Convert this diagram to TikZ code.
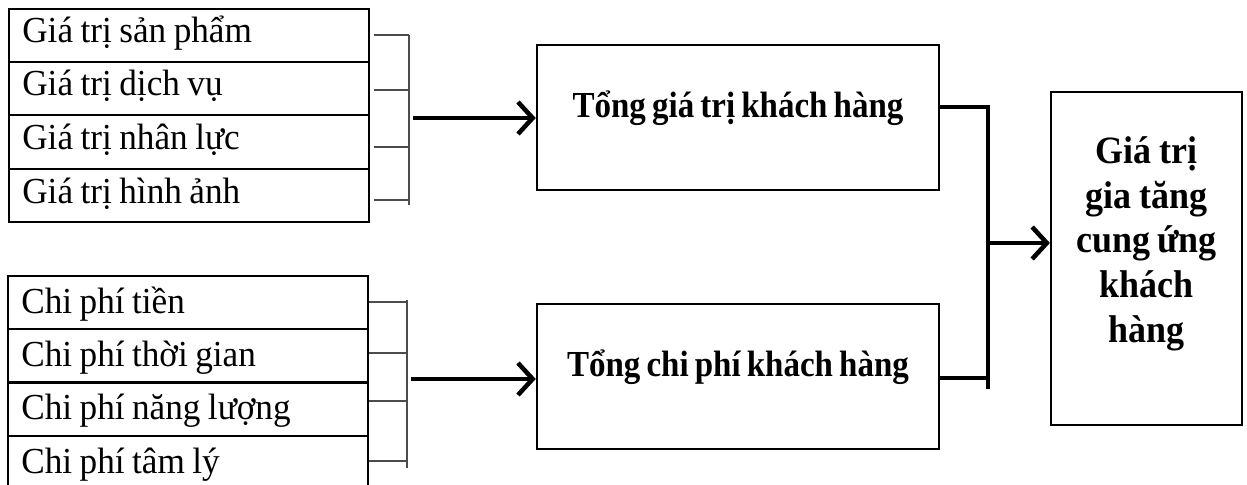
\documentclass[tikz,border=0pt]{standalone}
\usepackage{fontspec}
\setmainfont{Liberation Serif}
\newfontfamily\itemfont[FakeStretch=0.96]{Liberation Serif}
\newfontfamily\sumfont[FakeStretch=0.9]{Liberation Serif}
\newfontfamily\resfont[FakeStretch=0.93]{Liberation Serif}
\newcommand\myitemstyle{\itemfont\fontsize{27.5}{30}\selectfont}
\newcommand\mysumstyle{\sumfont\bfseries\fontsize{27.5}{30}\selectfont\spaceskip=4.6pt plus 1pt minus 1pt\relax}
\newcommand\myresstyle{\resfont\bfseries\fontsize{29}{33.4}\selectfont\spaceskip=5.5pt plus 1pt minus 1pt\relax}
\newcommand\myitemspace{\spaceskip=5.6pt plus 1pt minus 1pt\relax}
\usetikzlibrary{arrows.meta}
\begin{document}
\begin{tikzpicture}[x=0.75pt,y=-0.75pt,
  item/.style={draw=black, line width=1.5pt, minimum width=270pt, minimum height=39.75pt,
    anchor=north west, inner xsep=10pt, text width=250pt, align=left,
    font=\myitemstyle, execute at begin node=\myitemspace,
    text height=21pt, text depth=9.75pt},
  itemlow/.style={item, minimum width=264pt, text height=22.5pt, text depth=6.75pt},
  bigbox/.style={draw=black, line width=1.9pt, minimum width=301.5pt, minimum height=108.75pt,
    font=\mysumstyle, text height=18pt, text depth=18pt},
  resbox/.style={draw=black, line width=1.9pt, minimum width=143pt, minimum height=249.75pt,
    align=center, font=\myresstyle, text height=132.75pt, text depth=7.5pt},
  brk/.style={draw=black!70, line width=0.9pt},
  thick arrow/.style={draw=black, line width=3.6pt, -{Straight Barb[length=11pt, width=24pt, line width=3.4pt]}},
  thick line/.style={draw=black, line width=3.6pt}]
\useasboundingbox (0,0) rectangle (1247,485);
% upper stack
\node[item] (v1) at (8,8) {Giá trị sản phẩm};
\node[item] (v2) at (8,61) {Giá trị dịch vụ};
\node[item] (v3) at (8,114.5) {Giá trị nhân lực};
\node[item] (v4) at (8,168) {Giá trị hình ảnh};
% lower stack
\node[itemlow] (c1) at (7,275) {Chi phí tiền};
\node[itemlow] (c2) at (7,328) {Chi phí thời gian};
\node[itemlow] (c3) at (7,381.5) {Chi phí năng lượng};
\node[itemlow] (c4) at (7,435) {Chi phí tâm lý};
% big boxes
\node[bigbox] (tv) at (738,117.5) {Tổng giá trị khách hàng};
\node[bigbox] (tc) at (738,376.5) {Tổng chi phí khách hàng};
\node[resbox] (res) at (1146.5,258.5) {Giá trị\\gia tăng\\cung ứng\\khách\\hàng};
% brackets upper
\coordinate (ut) at (409,35);
\coordinate (ub) at (409,205);
\draw[brk] (ut) -- (ub);
\draw[brk] ([xshift=3pt]v1.east |- 0,35) -- (409,35);
\draw[brk] ([xshift=3pt]v2.east |- 0,90) -- (409,90);
\draw[brk] ([xshift=3pt]v3.east |- 0,147) -- (409,147);
\draw[brk] ([xshift=3pt]v4.east |- 0,200) -- (409,200);
% brackets lower
\coordinate (lt) at (407,300);
\coordinate (lb) at (407,468);
\draw[brk] (lt) -- (lb);
\draw[brk] (c1.east |- 0,302) -- (407,302);
\draw[brk] (c2.east |- 0,353) -- (407,353);
\draw[brk] (c3.east |- 0,401) -- (407,401);
\draw[brk] (c4.east |- 0,461) -- (407,461);
% arrows into big boxes
\coordinate (ua) at (413,118);
\coordinate (la) at (411,379);
\draw[thick arrow] (ua) -- (ua -| tv.west);
\draw[thick arrow] (la) -- (la -| tc.west);
% right connector
\coordinate (jt) at (988,107);
\coordinate (jb) at (988,378);
\coordinate (jm) at (988,243);
\draw[thick line] (tv.east |- jt) -- (jt);
\draw[thick line] (tc.east |- jb) -- (jb);
\draw[thick line] (988,105) -- (988,389);
\draw[thick arrow] (jm) -- (jm -| res.west);
\end{tikzpicture}
\end{document}
